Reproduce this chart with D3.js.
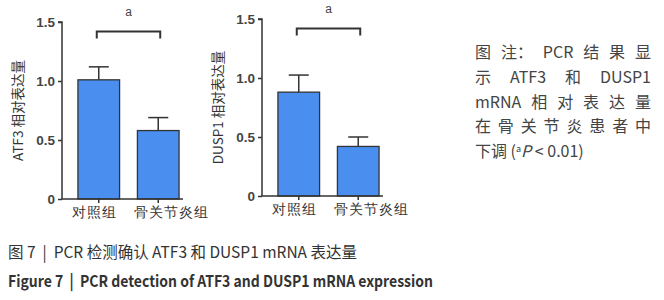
<!DOCTYPE html>
<html>
<head>
<meta charset="utf-8">
<script src="https://cdn.jsdelivr.net/npm/d3@7"></script>
<style>
  body { margin: 0; background: #fff; }
  svg { display: block; font-family: "Noto Sans CJK SC", "Noto Sans", sans-serif; }
</style>
</head>
<body>
<div id="container"></div>
<script>
/* DATA */
const groups = ["对照组", "骨关节炎组"];
const atf3Means = [1.01, 0.58];
const atf3Errors = [0.11, 0.11];
const dusp1Means = [0.88, 0.42];
const dusp1Errors = [0.145, 0.08];
const yTicks = [0, 0.5, 1.0, 1.5];
const yTickLabels = ["0", "0.5", "1.0", "1.5"];
const sigMark = "a";
const noteLines = ["图注：PCR 结果显", "示 ATF3 和 DUSP1", "mRNA 相对表达量", "在骨关节炎患者中"];

const width = 664, height = 300;
const ink = "#333";
const barFill = "#4a8ff0";
const labelShift = [-4, 13];

const svg = d3.select("#container")
  .append("svg")
  .attr("width", width)
  .attr("height", height);

// one panel per gene
function drawPanel(left, zeroY, means, errs, label, labelX) {
  const g = svg.append("g");

  const y = d3.scaleLinear()
    .domain([0, 1.5])
    .range([zeroY, zeroY - 177]);

  const x = d3.scaleBand()
    .domain(groups)
    .range([left + 10, left + 123])
    .paddingInner(0.3)
    .paddingOuter(0.1);

  // bars
  g.selectAll("rect.bar")
    .data(groups)
    .join("rect")
    .attr("class", "bar")
    .attr("x", d => x(d))
    .attr("y", (d, i) => y(means[i]))
    .attr("width", x.bandwidth())
    .attr("height", (d, i) => y(0) - y(means[i]))
    .attr("fill", barFill)
    .attr("stroke", ink)
    .attr("stroke-width", 1.3);

  // error bars (upper only)
  g.selectAll("line.err")
    .data(groups)
    .join("line")
    .attr("class", "err")
    .attr("x1", d => x(d) + x.bandwidth() / 2)
    .attr("x2", d => x(d) + x.bandwidth() / 2)
    .attr("y1", (d, i) => y(means[i]))
    .attr("y2", (d, i) => y(means[i] + errs[i]))
    .attr("stroke", ink)
    .attr("stroke-width", 1.5);

  g.selectAll("line.cap")
    .data(groups)
    .join("line")
    .attr("class", "cap")
    .attr("x1", d => x(d) + x.bandwidth() / 2 - 10)
    .attr("x2", d => x(d) + x.bandwidth() / 2 + 10)
    .attr("y1", (d, i) => y(means[i] + errs[i]))
    .attr("y2", (d, i) => y(means[i] + errs[i]))
    .attr("stroke", ink)
    .attr("stroke-width", 1.5);

  // y axis
  const yAxis = d3.axisLeft(y)
    .tickValues(yTicks)
    .tickFormat((d, i) => yTickLabels[i])
    .tickSize(4)
    .tickPadding(3);

  g.append("g")
    .attr("transform", `translate(${left},0)`)
    .call(yAxis)
    .call(a => a.select(".domain").attr("stroke", ink).attr("stroke-width", 1.5).attr("d", `M-4,${y(1.5)}H0V${y(0)}`))
    .call(a => a.selectAll(".tick line").attr("stroke", ink).attr("stroke-width", 1.5))
    .call(a => a.selectAll(".tick text")
      .attr("fill", "#444")
      .style("font-family", "'Liberation Sans', Arial, sans-serif")
      .style("font-weight", "bold")
      .style("font-size", "13.5px"));

  // x axis
  const xAxis = d3.axisBottom(x).tickSize(4).tickPadding(4);
  g.append("g")
    .attr("transform", `translate(0,${y(0)})`)
    .call(xAxis)
    .call(a => a.select(".domain").attr("stroke", ink).attr("stroke-width", 1.5).attr("d", `M${left},0H${left + 121}`))
    .call(a => a.selectAll(".tick line").attr("stroke", ink).attr("stroke-width", 1.5))
    .call(a => a.selectAll(".tick text")
      .attr("fill", "#333")
      .attr("dx", (d, i) => labelShift[i])
      .style("letter-spacing", "1px")
      .style("font-size", "13.5px"));

  // y label
  g.append("text")
    .attr("transform", `translate(${labelX},${y(0.75)}) rotate(-90)`)
    .attr("text-anchor", "middle")
    .attr("dy", "0.35em")
    .attr("fill", "#333")
    .style("font-size", "13.5px")
    .text(label);

  // significance bracket
  const x1 = x(groups[0]) + x.bandwidth() / 2 - 2;
  const x2 = x(groups[1]) + x.bandwidth() / 2 + 2;
  const by = y(1.42);
  g.append("path")
    .attr("d", `M${x1},${by + 7}V${by}H${x2}V${by + 7}`)
    .attr("fill", "none")
    .attr("stroke", ink)
    .attr("stroke-width", 2);

  g.append("text")
    .attr("x", (x1 + x2) / 2)
    .attr("y", y(1.55))
    .attr("text-anchor", "middle")
    .attr("fill", "#444")
    .style("font-family", "'Liberation Sans', Arial, sans-serif")
    .style("font-size", "12px")
    .text(sigMark);
}

drawPanel(62, 199, atf3Means, atf3Errors, "ATF3 相对表达量", 18);
drawPanel(262, 196, dusp1Means, dusp1Errors, "DUSP1 相对表达量", 218);

// side note, justified: latin words kept whole, CJK chars spread out
const note = svg.append("g").attr("fill", "#444").style("font-size", "16px");
const noteLeft = 475, noteRight = 651;
noteLines.forEach((t, i) => {
  const tokens = t.match(/[A-Za-z0-9]+|[^\sA-Za-z0-9]：?/g);
  const txt = note.append("text").attr("y", 58 + i * 24.8);
  const spans = tokens.map(tok => txt.append("tspan").text(tok));
  const widths = spans.map(s => s.node().getComputedTextLength());
  const gap = (noteRight - noteLeft - d3.sum(widths)) / (tokens.length - 1);
  let cx = noteLeft;
  spans.forEach((s, j) => {
    s.attr("x", cx);
    cx += widths[j] + gap;
  });
});
const last = note.append("text").attr("x", noteLeft).attr("y", 58 + 4 * 24.8).text("下调 (");
last.append("tspan").attr("dy", -5).style("font-size", "9px").text("a");
last.append("tspan").attr("dy", 5).style("font-style", "italic").text("P");
last.append("tspan").text(" < 0.01)");

// figure captions
svg.append("text")
  .attr("x", 8)
  .attr("y", 258)
  .attr("fill", "#333")
  .style("font-size", "16px")
  .style("white-space", "pre")
  .attr("textLength", 349)
  .attr("lengthAdjust", "spacingAndGlyphs")
  .text("图 7  |  PCR 检测确认 ATF3 和 DUSP1 mRNA 表达量");

svg.append("text")
  .attr("x", 8)
  .attr("y", 287)
  .attr("fill", "#333")
  .style("font-size", "16px")
  .style("font-weight", "bold")
  .style("white-space", "pre")
  .attr("textLength", 425)
  .attr("lengthAdjust", "spacingAndGlyphs")
  .text("Figure 7  |  PCR detection of ATF3 and DUSP1 mRNA expression");
</script>
</body>
</html>
